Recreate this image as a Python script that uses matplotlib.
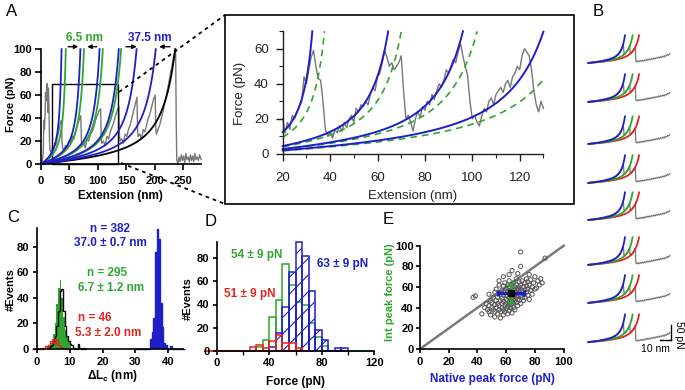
import numpy as np
import matplotlib
matplotlib.use('Agg')
import matplotlib.pyplot as plt
from matplotlib.patches import Rectangle
from matplotlib.lines import Line2D
from matplotlib.ticker import MultipleLocator

plt.rcParams['font.family'] = ['Liberation Sans', 'DejaVu Sans']
plt.rcParams['mathtext.fontset'] = 'custom'
plt.rcParams['mathtext.rm'] = 'Liberation Sans'
plt.rcParams['mathtext.bf'] = 'Liberation Sans:bold'
plt.rcParams['mathtext.it'] = 'Liberation Sans:italic'
plt.rcParams['hatch.linewidth'] = 0.8

W, H = 685, 390
BLUE = '#1f1fc8'
GREEN = '#2fa62f'
RED = '#e3241d'
GRAY = '#777777'

# ---- A: full trace + WLC fits (contour lengths in nm) ----
a_blue_lc = [43.3, 83.1, 123.5, 164.0, 201.6, 242.0]
a_green_lc = [52.3, 90.6, 130.4, 169.0]
a_black_lc = [283.0]
a_trace_x = [0, 2, 4, 5, 6, 7, 8, 9, 10, 11, 12, 13, 14, 15, 16, 18, 20, 22, 24, 26,
             28, 30, 32, 34, 36, 37, 38, 40, 43, 46, 49, 52, 55, 58, 61, 64, 67, 70, 71, 72,
             75, 78, 81, 84, 87, 90, 93, 96, 99, 102, 105, 106, 107, 110, 113, 116, 119, 122, 125, 128,
             131, 134, 137, 138, 139, 142, 145, 148, 151, 154, 157, 160, 163, 166, 169, 170, 171, 174, 177, 180,
             183, 186, 189, 192, 195, 198, 201, 202, 203, 206, 209, 212, 215, 218, 221, 224, 227, 230, 233, 235,
             237, 238, 239, 241, 243, 245, 247, 249, 251, 253, 255, 257, 259, 261, 263, 265, 267, 269, 271, 273,
             275, 277, 279, 282]
a_trace_y = [0, 2, 10, 38, 30, 40, 62, 55, 68, 70, 45, 66, 50, 20, 12, 10, 14, 12, 18, 16,
             22, 26, 30, 36, 38, 20, 14, 12, 16, 14, 20, 18, 24, 22, 28, 34, 38, 42, 22, 16,
             18, 14, 22, 20, 26, 28, 32, 38, 42, 46, 48, 24, 18, 20, 16, 24, 22, 28, 32, 36,
             42, 46, 50, 26, 20, 22, 18, 26, 24, 30, 34, 40, 46, 52, 58, 30, 24, 26, 22, 30,
             28, 34, 40, 44, 50, 56, 60, 32, 26, 30, 34, 40, 46, 54, 60, 68, 76, 84, 92, 96,
             100, 40, 4, 0, 6, 2, 8, 3, 7, 1, 9, 4, 6, 2, 8, 3, 7, 2, 9, 4,
             6, 3, 8, 4]

# ---- A inset ----
ins_blue_lc = [40.6, 80.6, 120.0, 162.5]
ins_green_lc = [47.0, 87.5, 127.5, 176.0]
ins_trace_x = list(range(20, 131))
ins_trace_y = [20, 12, 18, 14, 22, 20, 24, 27, 30, 44, 40, 48, 55, 59, 50, 43, 42, 30, 14, 10,
               13, 9, 14, 12, 16, 13, 18, 15, 20, 22, 18, 26, 24, 28, 27, 30, 28, 34, 38, 36,
               44, 46, 52, 59, 55, 50, 52, 48, 50, 52, 56, 36, 20, 22, 18, 13, 20, 24, 21, 27,
               25, 30, 28, 34, 31, 36, 40, 38, 42, 48, 46, 50, 54, 52, 58, 63, 56, 50, 45, 30,
               20, 22, 18, 16, 22, 26, 24, 30, 32, 28, 34, 36, 38, 35, 40, 42, 38, 44, 46, 50,
               48, 56, 60, 58, 56, 48, 36, 28, 24, 30, 26]

# ---- B: single-molecule examples ----
b_blue_lc, b_green_lc, b_red_lc = 39.3, 47.5, 54.5
b_trace_x = [0, 1, 2, 3, 4, 5, 6, 7, 8, 9, 10, 11, 12, 13, 14, 15, 16, 17, 18, 19,
             20, 21, 22, 23, 24, 25, 26, 27, 28, 29, 30, 31, 31.5, 32, 33, 34, 35, 36, 36.5, 37,
             38, 39, 40, 41, 41.5, 42, 43, 44, 45, 46, 47, 48, 49, 50, 51, 52, 53, 54, 55, 56,
             57, 58, 59, 60, 61, 62, 63, 64, 65, 66, 67, 68, 69, 70, 71, 72]
b_trace_y = [0, 2, 1, 3, 1, 4, 2, 5, 4, 6, 5, 8, 6, 9, 8, 11, 9, 13, 11, 15,
             13, 17, 16, 21, 19, 25, 24, 30, 33, 40, 48, 58, 30, 28, 34, 36, 44, 50, 54, 30,
             32, 38, 42, 48, 52, 6, 3, 7, 4, 8, 5, 9, 6, 10, 8, 12, 9, 13, 10, 14,
             12, 16, 13, 17, 15, 19, 16, 20, 18, 22, 19, 24, 22, 27, 25, 30]
b_row_offset = [930, 806, 672, 548, 430, 287, 166, 41]

# ---- C: contour length increments ----
c_bin = 0.5
c_green_start = 2.5
c_green = [1, 2, 3, 5, 8, 12, 20, 35, 48, 54, 40, 25, 15, 10, 6, 3, 1]
c_black_start = 3.5
c_black = [1, 2, 3, 6, 10, 18, 30, 45, 47, 30, 18, 10, 6, 4, 3, 1, 0, 0, 4, 1, 0, 1, 0]
c_red_start = -1.5
c_red = [0, 0, 0, 0, 0, 0, 0, 1, 2, 1, 3, 6, 5, 8, 4, 7, 3, 2, 1, 1, 0, 1, 0, 0]
c_blue_start = 30.0
c_blue = [0] * 9 + [8, 13, 24, 76, 94, 86, 36, 17, 5, 3, 0, 0, 2] + [0] * 8

# ---- D: unfolding forces ----
d_bin = 5
d_green_start = -10
d_green = [0] * 8 + [3, 9, 29, 44, 75, 57, 42, 40, 24, 12, 4] + [0] * 7
d_blue_start = 40
d_blue = [3, 15, 38, 68, 94, 82, 52, 18, 9, 0, 2, 2]
d_red_start = -10
d_red = [0] * 7 + [3, 5, 2, 8, 14, 7, 7, 2, 0]

# ---- E: peak force correlation ----
e_native = [37, 38.5, 43, 45, 46, 47, 48, 48, 49, 49, 50, 50, 51, 51, 52, 52, 52, 53, 53, 53,
            54, 54, 54, 55, 55, 55, 56, 56, 56, 56, 57, 57, 57, 57, 58, 58, 58, 58, 58, 59,
            59, 59, 59, 60, 60, 60, 60, 60, 61, 61, 61, 61, 61, 62, 62, 62, 62, 62, 63, 63,
            63, 63, 63, 64, 64, 64, 64, 64, 65, 65, 65, 65, 65, 66, 66, 66, 66, 66, 67, 67,
            67, 67, 67, 68, 68, 68, 68, 69, 69, 69, 69, 70, 70, 70, 70, 70, 71, 71, 71, 72,
            72, 72, 73, 73, 73, 74, 74, 74, 75, 75, 75, 76, 76, 77, 77, 78, 78, 79, 80, 80,
            81, 82, 83, 84, 85, 87, 76, 64, 62, 58, 55, 52, 48, 70, 68]
e_int = [50, 51.5, 34, 40, 44, 38, 36, 42, 47, 33, 40, 45, 38, 50, 31, 43, 36, 47, 40, 58,
         34, 44, 50, 38, 42, 62, 30, 47, 53, 36, 40, 44, 57, 49, 33, 38, 52, 61, 46, 42,
         55, 36, 64, 48, 44, 58, 39, 52, 34, 47, 56, 62, 41, 50, 45, 59, 37, 66, 43, 53,
         48, 57, 40, 62, 46, 51, 55, 35, 58, 44, 49, 64, 40, 53, 47, 60, 57, 38, 50, 62,
         45, 55, 68, 48, 58, 52, 42, 60, 55, 65, 47, 52, 94, 58, 62, 44, 50, 66, 56, 60,
         53, 47, 64, 57, 50, 61, 68, 55, 58, 52, 65, 62, 48, 67, 57, 60, 53, 64, 70, 58,
         59, 66, 62, 68, 64, 88, 72, 76, 72, 70, 66, 55, 53, 80, 73]
e_identity = [0, 100]
e_native_mean, e_native_sd = 63, 9
e_int_mean, e_int_sd = 54, 9


def wlc_force(x, lc, p=0.4, kt=4.1):
    r = np.asarray(x) / lc
    return kt / p * (0.25 / (1 - r) ** 2 - 0.25 + r)


def wlc_line(lc, fmax, x0=0.0, x1=np.inf):
    x = np.linspace(x0, min(lc * 0.97, x1), 3000)
    f = wlc_force(x, lc)
    m = f <= fmax
    return x[m], f[m]


fig = plt.figure(figsize=(6.85, 3.9), dpi=100)


def place(x_zero, sx, xlim, y_zero, sy, ylim):
    # x_zero / y_zero: pixel position of data 0; sx, sy: pixels per data unit
    left = x_zero + xlim[0] * sx
    right = x_zero + xlim[1] * sx
    top = y_zero - ylim[1] * sy
    bottom = y_zero - ylim[0] * sy
    ax = fig.add_axes([left / W, 1 - bottom / H, (right - left) / W, (bottom - top) / H])
    ax.set_xlim(xlim)
    ax.set_ylim(ylim)
    ax.patch.set_visible(False)
    return ax


def igor(ax, xpos, ypos, xb, yb, bold=True, fs=8, lw=1.2, col='black', xpad=2.5, ypad=2.5, tl=3):
    for s in ('top', 'right'):
        ax.spines[s].set_visible(False)
    ax.spines['left'].set_position(('data', xpos))
    ax.spines['bottom'].set_position(('data', ypos))
    ax.spines['left'].set_bounds(*yb)
    ax.spines['bottom'].set_bounds(*xb)
    for s in ('left', 'bottom'):
        ax.spines[s].set_linewidth(lw)
        ax.spines[s].set_color(col)
    ax.tick_params(which='major', length=tl, width=lw, color=col, labelsize=fs, labelcolor=col)
    ax.tick_params(which='minor', length=tl * 0.6, width=lw * 0.8, color=col)
    ax.tick_params(axis='x', pad=xpad)
    ax.tick_params(axis='y', pad=ypad)
    for t in ax.get_xticklabels() + ax.get_yticklabels():
        t.set_fontweight('bold' if bold else 'normal')


def ftext(px, py, s, **kw):
    fig.text(px / W, 1 - py / H, s, ha='center', va='center', **kw)


LAB = dict(fontsize=8.5, fontweight='bold')
VLAB = dict(fontsize=8, fontweight='bold', rotation=90)

# ================= A (overview) =================
axA = place(41, 0.568, (-5, 285), 164, 1.15, (-3, 103))
axA.plot(a_trace_x, a_trace_y, color=GRAY, lw=1.0, zorder=1)
for lc in a_black_lc:
    axA.plot(*wlc_line(lc, 100), color='black', lw=1.3)
for lc in a_green_lc:
    axA.plot(*wlc_line(lc, 100), color=GREEN, lw=1.3)
for lc in a_blue_lc:
    axA.plot(*wlc_line(lc, 100), color=BLUE, lw=1.3)
axA.add_patch(Rectangle((20, 0), 115, 70, fill=False, lw=1.0, ec='black'))
axA.set_xticks([0, 50, 100, 150, 200, 250])
axA.set_yticks([0, 20, 40, 60, 80, 100])
igor(axA, 0, 0, (0, 282), (0, 100), xpad=5, ypad=2.5, tl=4)
for (x0, x1) in [(48, 65.7), (98, 81.5), (149.6, 168.5), (227, 208)]:
    axA.annotate('', xy=(x1, 102), xytext=(x0, 102), annotation_clip=False,
                 arrowprops=dict(arrowstyle='-|>', color='black', lw=1.0, mutation_scale=6,
                                 shrinkA=0, shrinkB=0))
ftext(85, 38, '6.5 nm', color=GREEN, **LAB)
ftext(150, 38, '37.5 nm', color=BLUE, **LAB)
ftext(11, 104, 'Force (pN)', **VLAB)
ftext(120, 196, 'Extension (nm)', **LAB)
ftext(12, 12, 'A', fontsize=12)

# ================= A (inset) =================
fig.add_artist(Rectangle((225 / W, 1 - 204 / H), (574 - 225) / W, (204 - 15) / H,
                         transform=fig.transFigure, fill=False, lw=1.2, ec='black'))
for (p0, p1) in [((119, 92), (225, 15)), ((121, 163), (225, 204))]:
    fig.add_artist(Line2D([p0[0] / W, p1[0] / W], [1 - p0[1] / H, 1 - p1[1] / H],
                          transform=fig.transFigure, color='black', lw=1.3, ls=(0, (2, 2.2))))
axI = place(282.7 - 20 * 2.37, 2.37, (18, 132), 154, 1.755, (-3, 72))
axI.plot(ins_trace_x, ins_trace_y, color=GRAY, lw=1.0, zorder=1)
for lc in ins_green_lc:
    axI.plot(*wlc_line(lc, 70, 20, 130), color=GREEN, lw=1.2, ls=(0, (4, 3)))
for lc in ins_blue_lc:
    axI.plot(*wlc_line(lc, 70, 20, 130), color=BLUE, lw=1.4)
axI.set_xticks([20, 40, 60, 80, 100, 120])
axI.set_yticks([0, 20, 40, 60])
axI.xaxis.set_minor_locator(MultipleLocator(10))
axI.yaxis.set_minor_locator(MultipleLocator(10))
igor(axI, 20, 0, (20, 130), (0, 70), bold=False, fs=9.5, lw=1.0, col='#222222',
     xpad=8, ypad=5, tl=5)
ftext(239.5, 93, 'Force (pN)', rotation=90, fontsize=9.5, color='#222222')
ftext(413, 196, 'Extension (nm)', fontsize=9.5, color='#222222')

# ================= B =================
axB = place(588.4, 1.13, (-3, 85), 355, 0.314, (0, 1067))
axB.axis('off')
for off in b_row_offset:
    axB.plot(np.asarray(b_trace_x), np.asarray(b_trace_y) + off, color=GRAY, lw=0.9)
    for lc, c in [(b_red_lc, RED), (b_green_lc, GREEN), (b_blue_lc, BLUE)]:
        x, f = wlc_line(lc, 88)
        axB.plot(x, f + off, color=c, lw=1.3)
axB.plot([73, 73], [47.8, 95.5], color='black', lw=1.0)
axB.plot([63, 73], [47.8, 47.8], color='black', lw=1.0)
ftext(678.5, 335, '50 pN', rotation=270, fontsize=7.5)
ftext(655, 349, '10 nm', fontsize=7.5)
ftext(598, 12, 'B', fontsize=12)

# ================= C =================
axC = place(36.7, 3.29, (-2, 46), 349, 1.279, (-2, 97))


def edges(start, n, w):
    return start + w * np.arange(n + 1)


axC.stairs(c_green, edges(c_green_start, len(c_green), c_bin), fill=True, color=GREEN, lw=0)
axC.stairs(c_black, edges(c_black_start, len(c_black), c_bin), color='black', lw=1.0)
axC.stairs(c_red, edges(c_red_start, len(c_red), c_bin), color=RED, lw=1.0)
axC.stairs(c_blue, edges(c_blue_start, len(c_blue), c_bin), fill=True, color=BLUE, lw=0)
axC.stairs(c_blue, edges(c_blue_start, len(c_blue), c_bin), color=BLUE, lw=1.0, baseline=None)
axC.set_xticks([0, 10, 20, 30, 40])
axC.set_yticks([0, 20, 40, 60, 80])
igor(axC, 0, 0, (0, 44.6), (0, 94.5))
ftext(110, 229, 'n = 382', color=BLUE, **LAB)
ftext(110, 243.5, '37.0 ± 0.7 nm', color=BLUE, **LAB)
ftext(107, 273, 'n = 295', color=GREEN, **LAB)
ftext(111, 288, '6.7 ± 1.2 nm', color=GREEN, **LAB)
ftext(95, 318, 'n = 46', color=RED, **LAB)
ftext(108, 332.5, '5.3 ± 2.0 nm', color=RED, **LAB)
ftext(11, 290, '#Events', **VLAB)
ftext(112, 376, r'$\mathbf{\Delta L_c}$ (nm)', **LAB)
ftext(13, 218, 'C', fontsize=12)

# ================= D =================
axD = place(216.9, 1.31, (-12, 123), 350.7, 1.155, (-2, 97))
axD.bar(edges(d_green_start, len(d_green), d_bin)[:-1], d_green, width=d_bin, align='edge',
        fill=False, edgecolor=GREEN, lw=1.1)
axD.bar(edges(d_blue_start, len(d_blue), d_bin)[:-1], d_blue, width=d_bin, align='edge',
        fill=False, edgecolor=BLUE, hatch='//', lw=1.1)
axD.bar(edges(d_red_start, len(d_red), d_bin)[:-1], d_red, width=d_bin, align='edge',
        fill=False, edgecolor=RED, lw=1.1)
axD.set_xticks([0, 40, 80, 120])
axD.set_yticks([0, 20, 40, 60, 80])
axD.xaxis.set_minor_locator(MultipleLocator(20))
igor(axD, 0, 0, (0, 120), (0, 94.5))
axD.tick_params(which='minor', length=3)
ftext(256.5, 255, '54 ± 9 pN', color=GREEN, **LAB)
ftext(343, 264, '63 ± 9 pN', color=BLUE, **LAB)
ftext(250, 293.5, '51 ± 9 pN', color=RED, **LAB)
ftext(188, 299, '#Events', **VLAB)
ftext(295, 382, 'Force (pN)', **LAB)
ftext(211, 221, 'D', fontsize=12)

# ================= E =================
axE = place(420, 1.4375, (-3, 103), 349, 1.033, (-3, 103))
axE.plot(e_identity, e_identity, color='#7a7a7a', lw=1.8, zorder=1)
axE.scatter(e_native, e_int, s=9, facecolors='none', edgecolors='#555555', linewidths=0.7, zorder=2)
axE.errorbar(e_native_mean, e_int_mean, xerr=e_native_sd, fmt='none', ecolor=BLUE,
             elinewidth=2.2, capsize=2.5, capthick=2.2, zorder=3)
axE.errorbar(e_native_mean, e_int_mean, yerr=e_int_sd, fmt='none', ecolor=GREEN,
             elinewidth=2.2, capsize=2.5, capthick=2.2, zorder=3)
axE.plot([e_native_mean], [e_int_mean], 's', color='black', ms=5, zorder=4)
axE.set_xticks([0, 20, 40, 60, 80, 100])
axE.set_yticks([0, 20, 40, 60, 80, 100])
igor(axE, 0, 0, (0, 100), (0, 100), ypad=1.5)
ftext(390, 292, 'Int peak force (pN)', color=GREEN, **VLAB)
ftext(492, 379, 'Native peak force (pN)', color=BLUE, **LAB)
ftext(388, 220, 'E', fontsize=12)

fig.savefig('out.png', dpi=100)
